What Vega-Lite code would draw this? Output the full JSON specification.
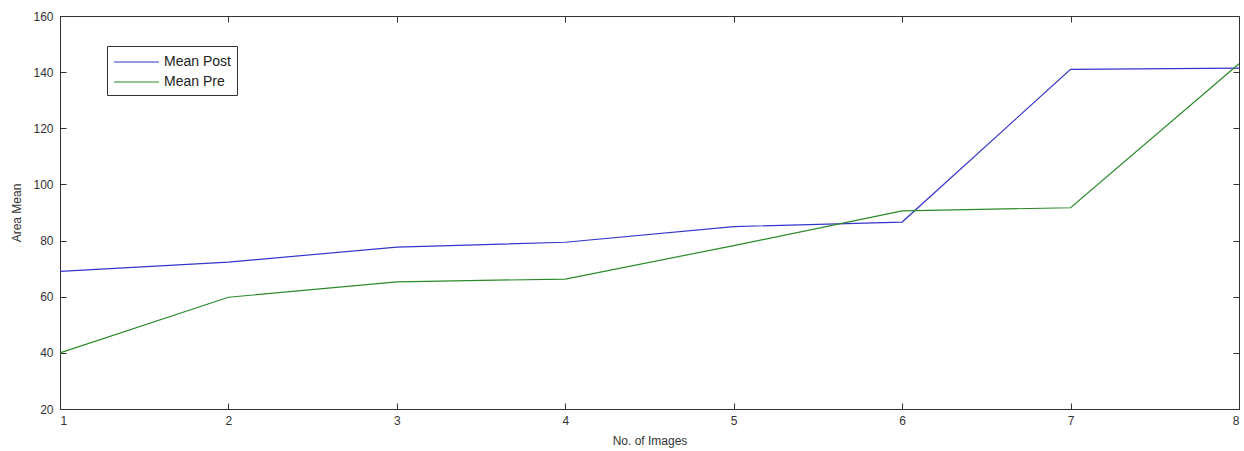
{
  "$schema": "https://vega.github.io/schema/vega-lite/v6.json",
  "autosize": {"type": "none"},
  "width": 1179,
  "height": 393,
  "padding": {"left": 60, "top": 16, "right": 5, "bottom": 42},
  "background": "white",
  "config": {
    "view": {"stroke": "#333333", "strokeWidth": 1},
    "font": "Liberation Sans",
    "axis": {
      "grid": false,
      "domainColor": "#333333",
      "tickColor": "#333333",
      "tickSize": -6,
      "labelFont": "Liberation Sans",
      "labelFontSize": 12,
      "labelColor": "#333333",
      "titleFont": "Liberation Sans",
      "titleFontSize": 12,
      "titleFontWeight": "normal",
      "titleColor": "#333333"
    }
  },
  "data": {
    "values": [
      {"n": 1, "series": "Mean Post", "v": 69},
      {"n": 2, "series": "Mean Post", "v": 72.3},
      {"n": 3, "series": "Mean Post", "v": 77.7},
      {"n": 4, "series": "Mean Post", "v": 79.4},
      {"n": 5, "series": "Mean Post", "v": 85},
      {"n": 6, "series": "Mean Post", "v": 86.6},
      {"n": 7, "series": "Mean Post", "v": 141},
      {"n": 8, "series": "Mean Post", "v": 141.4},
      {"n": 1, "series": "Mean Pre", "v": 40},
      {"n": 2, "series": "Mean Pre", "v": 59.8},
      {"n": 3, "series": "Mean Pre", "v": 65.3},
      {"n": 4, "series": "Mean Pre", "v": 66.3},
      {"n": 5, "series": "Mean Pre", "v": 78.2},
      {"n": 6, "series": "Mean Pre", "v": 90.6},
      {"n": 7, "series": "Mean Pre", "v": 91.7},
      {"n": 8, "series": "Mean Pre", "v": 143}
    ]
  },
  "layer": [
    {
      "mark": {"type": "line", "strokeWidth": 1.2},
      "encoding": {
        "x": {"field": "n", "type": "quantitative", "scale": {"domain": [1, 8], "nice": false, "zero": false},
              "axis": {"title": "No. of Images", "values": [1,2,3,4,5,6,7,8], "labelPadding": 12, "titlePadding": 9}},
        "y": {"field": "v", "type": "quantitative", "scale": {"domain": [20, 160], "nice": false, "zero": false},
              "axis": {"title": "Area Mean", "values": [20,40,60,80,100,120,140,160], "labelPadding": 13, "titlePadding": 9}},
        "color": {"field": "series", "type": "nominal",
                  "scale": {"domain": ["Mean Post", "Mean Pre"], "range": ["#3535cc", "#2a8a2a"]},
                  "legend": {"title": null, "orient": "none", "legendX": 47, "legendY": 30,
                             "symbolType": "M-1,0H4", "symbolSize": 324, "symbolStrokeWidth": 1.2,
                             "strokeColor": "#333333", "padding": 6, "fillColor": "white",
                             "labelFont": "Liberation Sans", "labelFontSize": 14, "labelColor": "#222222", "labelOffset": 31, "rowPadding": 3}}
      }
    },
    {
      "mark": {"type": "line", "opacity": 0},
      "encoding": {
        "x": {"field": "n", "type": "quantitative", "axis": {"orient": "top", "title": null, "labels": false, "values": [1,2,3,4,5,6,7,8], "domain": false}},
        "y": {"field": "v", "type": "quantitative", "axis": {"orient": "right", "title": null, "labels": false, "values": [20,40,60,80,100,120,140,160], "domain": false}},
        "detail": {"field": "series"}
      }
    }
  ],
  "resolve": {"axis": {"x": "independent", "y": "independent"}}
}
